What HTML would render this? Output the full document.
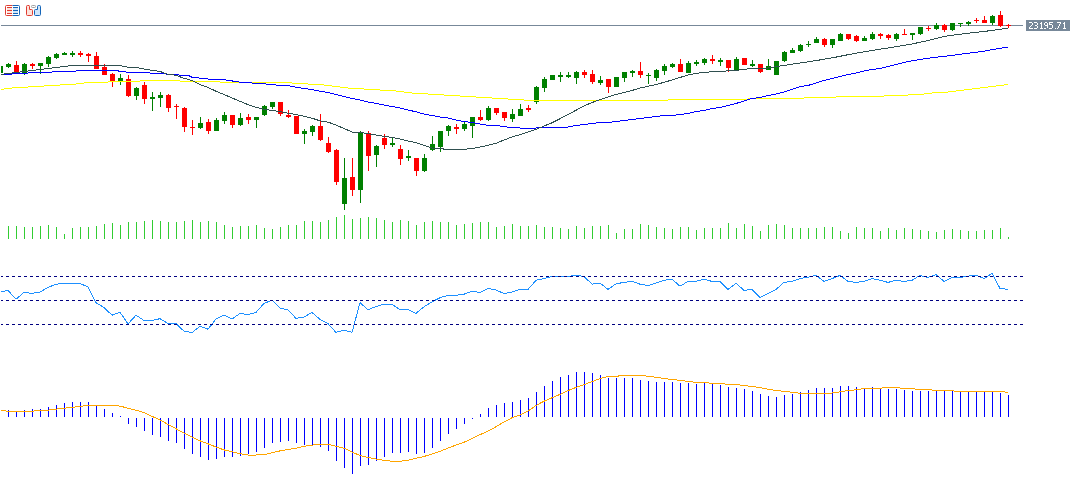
<!DOCTYPE html>
<html><head><meta charset="utf-8"><style>
html,body{margin:0;padding:0;background:#fff;width:1073px;height:503px;overflow:hidden}
#c{position:absolute;left:0;top:0}
</style></head><body>
<svg id="c" width="1073" height="503" shape-rendering="crispEdges">
<defs><clipPath id="cp"><rect x="1" y="0" width="1072" height="503"/></clipPath></defs><g clip-path="url(#cp)"><rect x="1" y="25" width="1022" height="1" fill="#778899"/>
<rect x="0" y="66" width="1" height="7" fill="#008000"/>
<rect x="1" y="66" width="2" height="7" fill="#008000"/>
<rect x="8" y="63" width="1" height="5" fill="#008000"/>
<rect x="6" y="64" width="5" height="3" fill="#008000"/>
<rect x="16" y="61" width="1" height="11" fill="#ff0000"/>
<rect x="14" y="65" width="5" height="7" fill="#ff0000"/>
<rect x="24" y="63" width="1" height="12" fill="#008000"/>
<rect x="22" y="64" width="5" height="10" fill="#008000"/>
<rect x="32" y="63" width="1" height="6" fill="#ff0000"/>
<rect x="30" y="64" width="5" height="2" fill="#ff0000"/>
<rect x="40" y="63" width="1" height="11" fill="#008000"/>
<rect x="38" y="63" width="5" height="3" fill="#008000"/>
<rect x="48" y="56" width="1" height="11" fill="#008000"/>
<rect x="46" y="57" width="5" height="7" fill="#008000"/>
<rect x="56" y="53" width="1" height="6" fill="#008000"/>
<rect x="54" y="54" width="5" height="4" fill="#008000"/>
<rect x="64" y="52" width="1" height="3" fill="#008000"/>
<rect x="62" y="53" width="5" height="2" fill="#008000"/>
<rect x="72" y="51" width="1" height="6" fill="#008000"/>
<rect x="70" y="53" width="5" height="2" fill="#008000"/>
<rect x="80" y="51" width="1" height="6" fill="#ff0000"/>
<rect x="78" y="53" width="5" height="2" fill="#ff0000"/>
<rect x="88" y="53" width="1" height="9" fill="#ff0000"/>
<rect x="86" y="54" width="5" height="2" fill="#ff0000"/>
<rect x="96" y="52" width="1" height="17" fill="#ff0000"/>
<rect x="94" y="56" width="5" height="13" fill="#ff0000"/>
<rect x="104" y="64" width="1" height="11" fill="#ff0000"/>
<rect x="102" y="67" width="5" height="8" fill="#ff0000"/>
<rect x="112" y="73" width="1" height="14" fill="#ff0000"/>
<rect x="110" y="74" width="5" height="7" fill="#ff0000"/>
<rect x="120" y="74" width="1" height="11" fill="#008000"/>
<rect x="118" y="78" width="5" height="3" fill="#008000"/>
<rect x="128" y="75" width="1" height="22" fill="#ff0000"/>
<rect x="126" y="79" width="5" height="17" fill="#ff0000"/>
<rect x="136" y="87" width="1" height="13" fill="#008000"/>
<rect x="134" y="88" width="5" height="8" fill="#008000"/>
<rect x="144" y="82" width="1" height="22" fill="#ff0000"/>
<rect x="142" y="85" width="5" height="14" fill="#ff0000"/>
<rect x="152" y="92" width="1" height="19" fill="#008000"/>
<rect x="150" y="97" width="5" height="2" fill="#008000"/>
<rect x="160" y="92" width="1" height="15" fill="#008000"/>
<rect x="158" y="95" width="5" height="3" fill="#008000"/>
<rect x="168" y="94" width="1" height="18" fill="#ff0000"/>
<rect x="166" y="95" width="5" height="13" fill="#ff0000"/>
<rect x="176" y="104" width="1" height="15" fill="#ff0000"/>
<rect x="174" y="106" width="5" height="1" fill="#ff0000"/>
<rect x="184" y="107" width="1" height="25" fill="#ff0000"/>
<rect x="182" y="108" width="5" height="19" fill="#ff0000"/>
<rect x="192" y="120" width="1" height="15" fill="#ff0000"/>
<rect x="190" y="127" width="5" height="1" fill="#ff0000"/>
<rect x="200" y="117" width="1" height="12" fill="#008000"/>
<rect x="198" y="123" width="5" height="5" fill="#008000"/>
<rect x="208" y="119" width="1" height="15" fill="#ff0000"/>
<rect x="206" y="122" width="5" height="9" fill="#ff0000"/>
<rect x="216" y="118" width="1" height="12" fill="#008000"/>
<rect x="214" y="120" width="5" height="11" fill="#008000"/>
<rect x="224" y="112" width="1" height="12" fill="#008000"/>
<rect x="222" y="115" width="5" height="6" fill="#008000"/>
<rect x="232" y="115" width="1" height="13" fill="#ff0000"/>
<rect x="230" y="115" width="5" height="10" fill="#ff0000"/>
<rect x="240" y="113" width="1" height="13" fill="#008000"/>
<rect x="238" y="118" width="5" height="7" fill="#008000"/>
<rect x="248" y="114" width="1" height="10" fill="#ff0000"/>
<rect x="246" y="117" width="5" height="3" fill="#ff0000"/>
<rect x="256" y="117" width="1" height="11" fill="#008000"/>
<rect x="254" y="117" width="5" height="3" fill="#008000"/>
<rect x="264" y="105" width="1" height="11" fill="#008000"/>
<rect x="262" y="106" width="5" height="9" fill="#008000"/>
<rect x="272" y="102" width="1" height="7" fill="#008000"/>
<rect x="270" y="102" width="5" height="5" fill="#008000"/>
<rect x="280" y="102" width="1" height="14" fill="#ff0000"/>
<rect x="278" y="102" width="5" height="12" fill="#ff0000"/>
<rect x="288" y="110" width="1" height="8" fill="#ff0000"/>
<rect x="286" y="115" width="5" height="2" fill="#ff0000"/>
<rect x="296" y="116" width="1" height="18" fill="#ff0000"/>
<rect x="294" y="116" width="5" height="18" fill="#ff0000"/>
<rect x="304" y="129" width="1" height="15" fill="#008000"/>
<rect x="302" y="131" width="5" height="3" fill="#008000"/>
<rect x="312" y="125" width="1" height="11" fill="#008000"/>
<rect x="310" y="126" width="5" height="6" fill="#008000"/>
<rect x="320" y="114" width="1" height="27" fill="#ff0000"/>
<rect x="318" y="126" width="5" height="14" fill="#ff0000"/>
<rect x="328" y="137" width="1" height="16" fill="#ff0000"/>
<rect x="326" y="143" width="5" height="9" fill="#ff0000"/>
<rect x="336" y="149" width="1" height="36" fill="#ff0000"/>
<rect x="334" y="150" width="5" height="32" fill="#ff0000"/>
<rect x="344" y="158" width="1" height="52" fill="#008000"/>
<rect x="342" y="178" width="5" height="26" fill="#008000"/>
<rect x="352" y="158" width="1" height="38" fill="#ff0000"/>
<rect x="350" y="177" width="5" height="13" fill="#ff0000"/>
<rect x="360" y="131" width="1" height="72" fill="#008000"/>
<rect x="358" y="132" width="5" height="58" fill="#008000"/>
<rect x="368" y="131" width="1" height="40" fill="#ff0000"/>
<rect x="366" y="133" width="5" height="23" fill="#ff0000"/>
<rect x="376" y="145" width="1" height="22" fill="#008000"/>
<rect x="374" y="146" width="5" height="9" fill="#008000"/>
<rect x="384" y="134" width="1" height="15" fill="#ff0000"/>
<rect x="382" y="138" width="5" height="7" fill="#ff0000"/>
<rect x="392" y="137" width="1" height="10" fill="#008000"/>
<rect x="390" y="143" width="5" height="2" fill="#008000"/>
<rect x="400" y="145" width="1" height="20" fill="#ff0000"/>
<rect x="398" y="149" width="5" height="10" fill="#ff0000"/>
<rect x="408" y="150" width="1" height="11" fill="#008000"/>
<rect x="406" y="156" width="5" height="2" fill="#008000"/>
<rect x="416" y="158" width="1" height="18" fill="#ff0000"/>
<rect x="414" y="158" width="5" height="13" fill="#ff0000"/>
<rect x="424" y="154" width="1" height="18" fill="#008000"/>
<rect x="422" y="158" width="5" height="13" fill="#008000"/>
<rect x="432" y="136" width="1" height="15" fill="#008000"/>
<rect x="430" y="144" width="5" height="6" fill="#008000"/>
<rect x="440" y="131" width="1" height="21" fill="#008000"/>
<rect x="438" y="131" width="5" height="16" fill="#008000"/>
<rect x="448" y="125" width="1" height="11" fill="#008000"/>
<rect x="446" y="126" width="5" height="5" fill="#008000"/>
<rect x="456" y="124" width="1" height="10" fill="#ff0000"/>
<rect x="454" y="127" width="5" height="2" fill="#ff0000"/>
<rect x="464" y="122" width="1" height="9" fill="#008000"/>
<rect x="462" y="124" width="5" height="5" fill="#008000"/>
<rect x="472" y="117" width="1" height="21" fill="#008000"/>
<rect x="470" y="117" width="5" height="9" fill="#008000"/>
<rect x="480" y="110" width="1" height="11" fill="#ff0000"/>
<rect x="478" y="117" width="5" height="3" fill="#ff0000"/>
<rect x="488" y="106" width="1" height="15" fill="#008000"/>
<rect x="486" y="108" width="5" height="12" fill="#008000"/>
<rect x="496" y="108" width="1" height="7" fill="#ff0000"/>
<rect x="494" y="108" width="5" height="5" fill="#ff0000"/>
<rect x="504" y="112" width="1" height="9" fill="#ff0000"/>
<rect x="502" y="112" width="5" height="6" fill="#ff0000"/>
<rect x="512" y="109" width="1" height="13" fill="#008000"/>
<rect x="510" y="114" width="5" height="5" fill="#008000"/>
<rect x="520" y="104" width="1" height="11" fill="#008000"/>
<rect x="518" y="109" width="5" height="7" fill="#008000"/>
<rect x="528" y="105" width="1" height="7" fill="#ff0000"/>
<rect x="526" y="108" width="5" height="2" fill="#ff0000"/>
<rect x="536" y="86" width="1" height="18" fill="#008000"/>
<rect x="534" y="87" width="5" height="15" fill="#008000"/>
<rect x="544" y="77" width="1" height="15" fill="#008000"/>
<rect x="542" y="79" width="5" height="9" fill="#008000"/>
<rect x="552" y="75" width="1" height="5" fill="#008000"/>
<rect x="550" y="75" width="5" height="5" fill="#008000"/>
<rect x="560" y="72" width="1" height="10" fill="#008000"/>
<rect x="558" y="75" width="5" height="2" fill="#008000"/>
<rect x="568" y="72" width="1" height="6" fill="#008000"/>
<rect x="566" y="75" width="5" height="2" fill="#008000"/>
<rect x="576" y="71" width="1" height="13" fill="#008000"/>
<rect x="574" y="72" width="5" height="6" fill="#008000"/>
<rect x="584" y="70" width="1" height="8" fill="#ff0000"/>
<rect x="582" y="72" width="5" height="3" fill="#ff0000"/>
<rect x="592" y="70" width="1" height="14" fill="#ff0000"/>
<rect x="590" y="74" width="5" height="8" fill="#ff0000"/>
<rect x="600" y="76" width="1" height="9" fill="#008000"/>
<rect x="598" y="80" width="5" height="3" fill="#008000"/>
<rect x="608" y="79" width="1" height="14" fill="#ff0000"/>
<rect x="606" y="79" width="5" height="8" fill="#ff0000"/>
<rect x="616" y="77" width="1" height="10" fill="#008000"/>
<rect x="614" y="77" width="5" height="10" fill="#008000"/>
<rect x="624" y="72" width="1" height="10" fill="#008000"/>
<rect x="622" y="72" width="5" height="6" fill="#008000"/>
<rect x="632" y="70" width="1" height="7" fill="#008000"/>
<rect x="630" y="71" width="5" height="2" fill="#008000"/>
<rect x="640" y="62" width="1" height="16" fill="#ff0000"/>
<rect x="638" y="71" width="5" height="4" fill="#ff0000"/>
<rect x="648" y="73" width="1" height="11" fill="#008000"/>
<rect x="646" y="75" width="5" height="1" fill="#008000"/>
<rect x="656" y="69" width="1" height="12" fill="#008000"/>
<rect x="654" y="70" width="5" height="8" fill="#008000"/>
<rect x="664" y="64" width="1" height="11" fill="#008000"/>
<rect x="662" y="66" width="5" height="5" fill="#008000"/>
<rect x="672" y="63" width="1" height="5" fill="#008000"/>
<rect x="670" y="64" width="5" height="3" fill="#008000"/>
<rect x="680" y="59" width="1" height="12" fill="#ff0000"/>
<rect x="678" y="64" width="5" height="8" fill="#ff0000"/>
<rect x="688" y="61" width="1" height="11" fill="#008000"/>
<rect x="686" y="63" width="5" height="10" fill="#008000"/>
<rect x="696" y="60" width="1" height="6" fill="#008000"/>
<rect x="694" y="62" width="5" height="2" fill="#008000"/>
<rect x="704" y="58" width="1" height="7" fill="#008000"/>
<rect x="702" y="59" width="5" height="4" fill="#008000"/>
<rect x="712" y="55" width="1" height="9" fill="#ff0000"/>
<rect x="710" y="59" width="5" height="2" fill="#ff0000"/>
<rect x="720" y="58" width="1" height="8" fill="#008000"/>
<rect x="718" y="60" width="5" height="2" fill="#008000"/>
<rect x="728" y="60" width="1" height="12" fill="#ff0000"/>
<rect x="726" y="60" width="5" height="8" fill="#ff0000"/>
<rect x="736" y="57" width="1" height="12" fill="#008000"/>
<rect x="734" y="59" width="5" height="11" fill="#008000"/>
<rect x="744" y="58" width="1" height="7" fill="#ff0000"/>
<rect x="742" y="58" width="5" height="7" fill="#ff0000"/>
<rect x="752" y="60" width="1" height="7" fill="#008000"/>
<rect x="750" y="64" width="5" height="2" fill="#008000"/>
<rect x="760" y="64" width="1" height="9" fill="#ff0000"/>
<rect x="758" y="64" width="5" height="8" fill="#ff0000"/>
<rect x="768" y="59" width="1" height="10" fill="#008000"/>
<rect x="766" y="66" width="5" height="4" fill="#008000"/>
<rect x="776" y="61" width="1" height="14" fill="#008000"/>
<rect x="774" y="61" width="5" height="14" fill="#008000"/>
<rect x="784" y="51" width="1" height="11" fill="#008000"/>
<rect x="782" y="52" width="5" height="9" fill="#008000"/>
<rect x="792" y="48" width="1" height="4" fill="#008000"/>
<rect x="790" y="50" width="5" height="3" fill="#008000"/>
<rect x="800" y="44" width="1" height="8" fill="#008000"/>
<rect x="798" y="45" width="5" height="6" fill="#008000"/>
<rect x="808" y="41" width="1" height="6" fill="#008000"/>
<rect x="806" y="44" width="5" height="1" fill="#008000"/>
<rect x="816" y="37" width="1" height="5" fill="#008000"/>
<rect x="814" y="39" width="5" height="4" fill="#008000"/>
<rect x="824" y="38" width="1" height="9" fill="#ff0000"/>
<rect x="822" y="39" width="5" height="6" fill="#ff0000"/>
<rect x="832" y="39" width="1" height="9" fill="#008000"/>
<rect x="830" y="39" width="5" height="6" fill="#008000"/>
<rect x="840" y="33" width="1" height="7" fill="#008000"/>
<rect x="838" y="34" width="5" height="7" fill="#008000"/>
<rect x="848" y="34" width="1" height="6" fill="#ff0000"/>
<rect x="846" y="34" width="5" height="5" fill="#ff0000"/>
<rect x="856" y="35" width="1" height="7" fill="#ff0000"/>
<rect x="854" y="36" width="5" height="5" fill="#ff0000"/>
<rect x="864" y="36" width="1" height="4" fill="#008000"/>
<rect x="862" y="38" width="5" height="3" fill="#008000"/>
<rect x="872" y="32" width="1" height="8" fill="#008000"/>
<rect x="870" y="34" width="5" height="5" fill="#008000"/>
<rect x="880" y="33" width="1" height="6" fill="#ff0000"/>
<rect x="878" y="34" width="5" height="2" fill="#ff0000"/>
<rect x="888" y="34" width="1" height="6" fill="#ff0000"/>
<rect x="886" y="35" width="5" height="3" fill="#ff0000"/>
<rect x="896" y="33" width="1" height="8" fill="#008000"/>
<rect x="894" y="34" width="5" height="5" fill="#008000"/>
<rect x="904" y="29" width="1" height="5" fill="#ff0000"/>
<rect x="902" y="34" width="5" height="1" fill="#ff0000"/>
<rect x="912" y="33" width="1" height="7" fill="#008000"/>
<rect x="910" y="33" width="5" height="2" fill="#008000"/>
<rect x="920" y="27" width="1" height="8" fill="#008000"/>
<rect x="918" y="27" width="5" height="7" fill="#008000"/>
<rect x="928" y="26" width="1" height="5" fill="#ff0000"/>
<rect x="926" y="28" width="5" height="1" fill="#ff0000"/>
<rect x="936" y="23" width="1" height="7" fill="#008000"/>
<rect x="934" y="25" width="5" height="4" fill="#008000"/>
<rect x="944" y="24" width="1" height="8" fill="#ff0000"/>
<rect x="942" y="25" width="5" height="5" fill="#ff0000"/>
<rect x="952" y="23" width="1" height="8" fill="#008000"/>
<rect x="950" y="23" width="5" height="7" fill="#008000"/>
<rect x="960" y="23" width="1" height="4" fill="#008000"/>
<rect x="958" y="23" width="5" height="1" fill="#008000"/>
<rect x="968" y="21" width="1" height="5" fill="#008000"/>
<rect x="966" y="22" width="5" height="2" fill="#008000"/>
<rect x="976" y="18" width="1" height="5" fill="#ff0000"/>
<rect x="974" y="20" width="5" height="1" fill="#ff0000"/>
<rect x="984" y="16" width="1" height="6" fill="#ff0000"/>
<rect x="982" y="20" width="5" height="3" fill="#ff0000"/>
<rect x="992" y="15" width="1" height="10" fill="#008000"/>
<rect x="990" y="16" width="5" height="7" fill="#008000"/>
<rect x="1000" y="11" width="1" height="16" fill="#ff0000"/>
<rect x="998" y="15" width="5" height="11" fill="#ff0000"/>
<rect x="1008" y="24" width="1" height="4" fill="#ff0000"/>
<rect x="1006" y="25" width="5" height="1" fill="#ff0000"/>
<polyline points="0,89.5 8,88.5 16,87.5 24,87.5 32,86.5 40,86.5 48,85.5 56,85.5 64,84.5 72,84.5 80,83.5 88,82.5 104,82.5 112,81.5 136,81.5 144,80.5 176,80.5 184,81.5 216,81.5 224,82.5 272,82.5 280,82.5 288,82.5 296,83.5 304,83.5 312,84.5 320,84.5 328,85.5 336,86.5 344,87.5 352,88.5 360,88.5 368,89.5 376,89.5 384,90.5 392,90.5 400,91.5 408,92.5 416,93.5 424,93.5 432,94.5 440,94.5 448,95.5 456,95.5 464,96.5 472,96.5 480,97.5 488,97.5 496,98.5 504,98.5 512,99.5 520,99.5 528,100.5 664,100.5 672,99.5 736,99.5 744,99.5 752,98.5 800,98.5 808,97.5 832,97.5 840,96.5 880,96.5 888,95.5 904,95.5 912,94.5 920,94.5 928,93.5 936,92.5 944,92.5 952,91.5 960,90.5 968,89.5 976,88.5 984,87.5 992,86.5 1000,85.5 1008,84.5" fill="none" stroke="#ffff00" stroke-width="1" />
<polyline points="0,74.5 8,74.5 16,73.5 24,73.5 32,72.5 48,72.5 56,71.5 72,71.5 80,70.5 116,70.5 120,71.3 128,72.3 148,72.5 152,73.4 164,73.5 168,74.3 178,74.5 180,75.5 189,75.8 192,77.3 197,77.5 200,78.3 210,79.2 225,79.9 240,82.1 255,83.2 272,84.5 280,85.5 288,85.5 296,87.3 304,88.5 312,89.5 320,91.3 328,92.5 336,94.5 344,96.5 352,98.5 360,100 368,102 376,103.3 384,105 392,106.5 400,108 408,110 416,111.8 424,114 432,115.5 440,117 448,118 456,120 464,121.5 472,122.5 480,124 488,125.3 496,125.5 512,127.6 528,128.4 544,127.6 560,127.3 568,127 576,125.5 584,124.5 592,123.5 600,122.5 608,122.5 616,121.5 624,120.5 632,119.5 640,118.5 648,117.5 656,116.5 664,115.5 672,115.5 680,114.5 688,113.5 696,111.5 704,110.5 712,108.5 720,107.5 728,105.5 736,103.5 744,101 752,98.5 760,97.5 768,95.5 776,94 784,92 792,89.5 800,86.5 808,85.5 816,83 824,80.5 832,78.5 840,76.5 848,74.5 856,73 864,71 872,69.5 880,68.5 888,66.5 896,64.5 904,62.5 912,60.8 920,59.5 928,58.3 936,57.3 944,56.3 952,55.5 960,54.3 968,53.3 976,52.3 984,51.2 992,49.7 1000,48.3 1008,47.3" fill="none" stroke="#0000ff" stroke-width="1" />
<polyline points="0,74.5 8,73.5 16,72.5 24,71.5 32,70.5 40,69.5 48,68.5 56,67.5 64,66.5 72,65.5 120,65.5 128,67.3 136,67.3 144,69 152,70.3 160,71.5 168,74.3 176,75.3 184,78.3 192,80.5 200,84.5 208,87.5 216,91.2 224,94.5 232,97.9 240,101.3 248,104.6 256,107.4 264,109.2 272,110.4 280,111.7 296,114.5 304,116.2 312,118.2 320,120.8 328,122.1 336,125 344,128.5 352,132 360,132.4 376,135 384,136.3 392,137.4 400,139 408,141 416,142.5 424,145.5 432,148 448,149.4 464,149.4 472,148.5 480,147 488,145.3 496,143.3 504,140 512,137 520,134.7 536,129.3 552,122.8 568,114.6 584,105.9 592,102.5 600,99.8 608,97 616,94.5 624,92.5 632,90.5 640,88 648,86.3 656,84.6 664,82.3 672,80 680,77.5 688,75 696,73.5 704,72.3 720,71.4 736,70.3 744,69.4 752,68.5 768,68 784,65.4 800,63 816,60.6 832,57.9 848,54.7 864,51.8 880,49.2 896,46.7 912,44 928,40.5 944,36.4 952,35.2 960,34.3 968,33.2 976,32.4 984,31.4 992,30.5 1000,29.3 1008,28.2" fill="none" stroke="#2f4f4f" stroke-width="1" />
<rect x="8" y="226" width="1" height="13" fill="#32cd32"/>
<rect x="16" y="226" width="1" height="13" fill="#32cd32"/>
<rect x="24" y="227" width="1" height="12" fill="#32cd32"/>
<rect x="32" y="227" width="1" height="12" fill="#32cd32"/>
<rect x="40" y="226" width="1" height="13" fill="#32cd32"/>
<rect x="48" y="225" width="1" height="14" fill="#32cd32"/>
<rect x="56" y="227" width="1" height="12" fill="#32cd32"/>
<rect x="64" y="234" width="1" height="5" fill="#32cd32"/>
<rect x="72" y="228" width="1" height="11" fill="#32cd32"/>
<rect x="80" y="227" width="1" height="12" fill="#32cd32"/>
<rect x="88" y="227" width="1" height="12" fill="#32cd32"/>
<rect x="96" y="226" width="1" height="13" fill="#32cd32"/>
<rect x="104" y="224" width="1" height="15" fill="#32cd32"/>
<rect x="112" y="223" width="1" height="16" fill="#32cd32"/>
<rect x="120" y="225" width="1" height="14" fill="#32cd32"/>
<rect x="128" y="222" width="1" height="17" fill="#32cd32"/>
<rect x="136" y="222" width="1" height="17" fill="#32cd32"/>
<rect x="144" y="221" width="1" height="18" fill="#32cd32"/>
<rect x="152" y="220" width="1" height="19" fill="#32cd32"/>
<rect x="160" y="221" width="1" height="18" fill="#32cd32"/>
<rect x="168" y="222" width="1" height="17" fill="#32cd32"/>
<rect x="176" y="221.5" width="1" height="17.5" fill="#32cd32"/>
<rect x="184" y="221" width="1" height="18" fill="#32cd32"/>
<rect x="192" y="220" width="1" height="19" fill="#32cd32"/>
<rect x="200" y="222" width="1" height="17" fill="#32cd32"/>
<rect x="208" y="221" width="1" height="18" fill="#32cd32"/>
<rect x="216" y="222" width="1" height="17" fill="#32cd32"/>
<rect x="224" y="225" width="1" height="14" fill="#32cd32"/>
<rect x="232" y="227" width="1" height="12" fill="#32cd32"/>
<rect x="240" y="226" width="1" height="13" fill="#32cd32"/>
<rect x="248" y="226" width="1" height="13" fill="#32cd32"/>
<rect x="256" y="225" width="1" height="14" fill="#32cd32"/>
<rect x="264" y="228" width="1" height="11" fill="#32cd32"/>
<rect x="272" y="229" width="1" height="10" fill="#32cd32"/>
<rect x="280" y="227" width="1" height="12" fill="#32cd32"/>
<rect x="288" y="225" width="1" height="14" fill="#32cd32"/>
<rect x="296" y="225" width="1" height="14" fill="#32cd32"/>
<rect x="304" y="221" width="1" height="18" fill="#32cd32"/>
<rect x="312" y="221" width="1" height="18" fill="#32cd32"/>
<rect x="320" y="222" width="1" height="17" fill="#32cd32"/>
<rect x="328" y="220" width="1" height="19" fill="#32cd32"/>
<rect x="336" y="217" width="1" height="22" fill="#32cd32"/>
<rect x="344" y="215" width="1" height="24" fill="#32cd32"/>
<rect x="352" y="219" width="1" height="20" fill="#32cd32"/>
<rect x="360" y="218" width="1" height="21" fill="#32cd32"/>
<rect x="368" y="217" width="1" height="22" fill="#32cd32"/>
<rect x="376" y="218" width="1" height="21" fill="#32cd32"/>
<rect x="384" y="220" width="1" height="19" fill="#32cd32"/>
<rect x="392" y="222" width="1" height="17" fill="#32cd32"/>
<rect x="400" y="220" width="1" height="19" fill="#32cd32"/>
<rect x="408" y="221" width="1" height="18" fill="#32cd32"/>
<rect x="416" y="225" width="1" height="14" fill="#32cd32"/>
<rect x="424" y="222" width="1" height="17" fill="#32cd32"/>
<rect x="432" y="221" width="1" height="18" fill="#32cd32"/>
<rect x="440" y="222" width="1" height="17" fill="#32cd32"/>
<rect x="448" y="222" width="1" height="17" fill="#32cd32"/>
<rect x="456" y="225" width="1" height="14" fill="#32cd32"/>
<rect x="464" y="224" width="1" height="15" fill="#32cd32"/>
<rect x="472" y="223" width="1" height="16" fill="#32cd32"/>
<rect x="480" y="222" width="1" height="17" fill="#32cd32"/>
<rect x="488" y="222" width="1" height="17" fill="#32cd32"/>
<rect x="496" y="227" width="1" height="12" fill="#32cd32"/>
<rect x="504" y="226" width="1" height="13" fill="#32cd32"/>
<rect x="512" y="224" width="1" height="15" fill="#32cd32"/>
<rect x="520" y="226" width="1" height="13" fill="#32cd32"/>
<rect x="528" y="226" width="1" height="13" fill="#32cd32"/>
<rect x="536" y="225" width="1" height="14" fill="#32cd32"/>
<rect x="544" y="227" width="1" height="12" fill="#32cd32"/>
<rect x="552" y="227" width="1" height="12" fill="#32cd32"/>
<rect x="560" y="228" width="1" height="11" fill="#32cd32"/>
<rect x="568" y="229" width="1" height="10" fill="#32cd32"/>
<rect x="576" y="226" width="1" height="13" fill="#32cd32"/>
<rect x="584" y="228" width="1" height="11" fill="#32cd32"/>
<rect x="592" y="226" width="1" height="13" fill="#32cd32"/>
<rect x="600" y="226" width="1" height="13" fill="#32cd32"/>
<rect x="608" y="225" width="1" height="14" fill="#32cd32"/>
<rect x="616" y="233" width="1" height="6" fill="#32cd32"/>
<rect x="624" y="229" width="1" height="10" fill="#32cd32"/>
<rect x="632" y="229" width="1" height="10" fill="#32cd32"/>
<rect x="640" y="224" width="1" height="15" fill="#32cd32"/>
<rect x="648" y="225" width="1" height="14" fill="#32cd32"/>
<rect x="656" y="227" width="1" height="12" fill="#32cd32"/>
<rect x="664" y="228" width="1" height="11" fill="#32cd32"/>
<rect x="672" y="229" width="1" height="10" fill="#32cd32"/>
<rect x="680" y="227" width="1" height="12" fill="#32cd32"/>
<rect x="688" y="227" width="1" height="12" fill="#32cd32"/>
<rect x="696" y="230" width="1" height="9" fill="#32cd32"/>
<rect x="704" y="228" width="1" height="11" fill="#32cd32"/>
<rect x="712" y="228" width="1" height="11" fill="#32cd32"/>
<rect x="720" y="228" width="1" height="11" fill="#32cd32"/>
<rect x="728" y="223" width="1" height="16" fill="#32cd32"/>
<rect x="736" y="228" width="1" height="11" fill="#32cd32"/>
<rect x="744" y="224" width="1" height="15" fill="#32cd32"/>
<rect x="752" y="226" width="1" height="13" fill="#32cd32"/>
<rect x="760" y="231" width="1" height="8" fill="#32cd32"/>
<rect x="768" y="225" width="1" height="14" fill="#32cd32"/>
<rect x="776" y="224" width="1" height="15" fill="#32cd32"/>
<rect x="784" y="225" width="1" height="14" fill="#32cd32"/>
<rect x="792" y="228" width="1" height="11" fill="#32cd32"/>
<rect x="800" y="228" width="1" height="11" fill="#32cd32"/>
<rect x="808" y="228" width="1" height="11" fill="#32cd32"/>
<rect x="816" y="228" width="1" height="11" fill="#32cd32"/>
<rect x="824" y="227" width="1" height="12" fill="#32cd32"/>
<rect x="832" y="227" width="1" height="12" fill="#32cd32"/>
<rect x="840" y="231" width="1" height="8" fill="#32cd32"/>
<rect x="848" y="233" width="1" height="6" fill="#32cd32"/>
<rect x="856" y="227" width="1" height="12" fill="#32cd32"/>
<rect x="864" y="228" width="1" height="11" fill="#32cd32"/>
<rect x="872" y="228" width="1" height="11" fill="#32cd32"/>
<rect x="880" y="231" width="1" height="8" fill="#32cd32"/>
<rect x="888" y="228" width="1" height="11" fill="#32cd32"/>
<rect x="896" y="230" width="1" height="9" fill="#32cd32"/>
<rect x="904" y="228" width="1" height="11" fill="#32cd32"/>
<rect x="912" y="229" width="1" height="10" fill="#32cd32"/>
<rect x="920" y="230" width="1" height="9" fill="#32cd32"/>
<rect x="928" y="231" width="1" height="8" fill="#32cd32"/>
<rect x="936" y="232" width="1" height="7" fill="#32cd32"/>
<rect x="944" y="230" width="1" height="9" fill="#32cd32"/>
<rect x="952" y="229" width="1" height="10" fill="#32cd32"/>
<rect x="960" y="230" width="1" height="9" fill="#32cd32"/>
<rect x="968" y="231" width="1" height="8" fill="#32cd32"/>
<rect x="976" y="231" width="1" height="8" fill="#32cd32"/>
<rect x="984" y="230" width="1" height="9" fill="#32cd32"/>
<rect x="992" y="230" width="1" height="9" fill="#32cd32"/>
<rect x="1000" y="228" width="1" height="11" fill="#32cd32"/>
<rect x="1008" y="237" width="1" height="2" fill="#32cd32"/>
<polyline points="0,292 8,290.5 16,299.2 24,292.3 32,293.4 40,292 48,287.4 56,284.2 64,283.5 72,283.5 80,283.5 88,287 96,302.7 104,307.5 112,315.2 120,312.2 128,324 136,315.2 144,320.5 152,320.4 160,318.7 168,323.6 176,323.6 184,331.2 192,332.6 200,326.4 208,329.2 216,319 224,315.2 232,319 240,313.4 248,314.5 256,312.4 264,303.4 272,300.3 280,308.3 288,309.7 296,318.4 304,317 312,312.4 320,319.4 328,323.6 336,332.4 344,330.1 352,332.4 360,302.7 368,309.7 376,306.5 384,304.1 392,304.5 400,309.5 408,309.5 416,313.4 424,306.8 432,301.9 440,297.7 448,295.3 456,295.3 464,294.2 472,291.2 480,292.4 488,288.4 496,290 504,293.5 512,292.1 520,289.4 528,289.4 536,280.3 544,278.6 552,276.4 560,276.4 568,276.4 576,275.4 584,276.4 592,284.2 600,283.1 608,289.4 616,283.8 624,282.4 632,281.4 640,284.2 648,285.6 656,283.1 664,280.3 672,279.2 680,286.2 688,281.4 696,281.4 704,279.2 712,281.4 720,281.4 728,289.4 736,283.4 744,290.3 752,289.4 760,297.3 768,293.5 776,289.4 784,282.4 792,281.4 800,278.6 808,277.2 816,275.4 824,281.4 832,278.6 840,275.4 848,281.4 856,282.4 864,281.4 872,278.6 880,280.3 888,282.4 896,280.3 904,281.4 912,280.3 920,275.4 928,277.5 936,274.5 944,281.4 952,277.5 960,277.5 968,276.1 976,275 984,278.6 992,273.4 1000,288.4 1008,289.4" fill="none" stroke="#1e90ff" stroke-width="1" />
<path fill="#000080" d="M1 276h2v1h-2zM6 276h3v1h-3zM12 276h3v1h-3zM18 276h3v1h-3zM24 276h3v1h-3zM30 276h3v1h-3zM36 276h3v1h-3zM42 276h3v1h-3zM48 276h3v1h-3zM54 276h3v1h-3zM60 276h3v1h-3zM66 276h3v1h-3zM72 276h3v1h-3zM78 276h3v1h-3zM84 276h3v1h-3zM90 276h3v1h-3zM96 276h3v1h-3zM102 276h3v1h-3zM108 276h3v1h-3zM114 276h3v1h-3zM120 276h3v1h-3zM126 276h3v1h-3zM132 276h3v1h-3zM138 276h3v1h-3zM144 276h3v1h-3zM150 276h3v1h-3zM156 276h3v1h-3zM162 276h3v1h-3zM168 276h3v1h-3zM174 276h3v1h-3zM180 276h3v1h-3zM186 276h3v1h-3zM192 276h3v1h-3zM198 276h3v1h-3zM204 276h3v1h-3zM210 276h3v1h-3zM216 276h3v1h-3zM222 276h3v1h-3zM228 276h3v1h-3zM234 276h3v1h-3zM240 276h3v1h-3zM246 276h3v1h-3zM252 276h3v1h-3zM258 276h3v1h-3zM264 276h3v1h-3zM270 276h3v1h-3zM276 276h3v1h-3zM282 276h3v1h-3zM288 276h3v1h-3zM294 276h3v1h-3zM300 276h3v1h-3zM306 276h3v1h-3zM312 276h3v1h-3zM318 276h3v1h-3zM324 276h3v1h-3zM330 276h3v1h-3zM336 276h3v1h-3zM342 276h3v1h-3zM348 276h3v1h-3zM354 276h3v1h-3zM360 276h3v1h-3zM366 276h3v1h-3zM372 276h3v1h-3zM378 276h3v1h-3zM384 276h3v1h-3zM390 276h3v1h-3zM396 276h3v1h-3zM402 276h3v1h-3zM408 276h3v1h-3zM414 276h3v1h-3zM420 276h3v1h-3zM426 276h3v1h-3zM432 276h3v1h-3zM438 276h3v1h-3zM444 276h3v1h-3zM450 276h3v1h-3zM456 276h3v1h-3zM462 276h3v1h-3zM468 276h3v1h-3zM474 276h3v1h-3zM480 276h3v1h-3zM486 276h3v1h-3zM492 276h3v1h-3zM498 276h3v1h-3zM504 276h3v1h-3zM510 276h3v1h-3zM516 276h3v1h-3zM522 276h3v1h-3zM528 276h3v1h-3zM534 276h3v1h-3zM540 276h3v1h-3zM546 276h3v1h-3zM552 276h3v1h-3zM558 276h3v1h-3zM564 276h3v1h-3zM570 276h3v1h-3zM576 276h3v1h-3zM582 276h3v1h-3zM588 276h3v1h-3zM594 276h3v1h-3zM600 276h3v1h-3zM606 276h3v1h-3zM612 276h3v1h-3zM618 276h3v1h-3zM624 276h3v1h-3zM630 276h3v1h-3zM636 276h3v1h-3zM642 276h3v1h-3zM648 276h3v1h-3zM654 276h3v1h-3zM660 276h3v1h-3zM666 276h3v1h-3zM672 276h3v1h-3zM678 276h3v1h-3zM684 276h3v1h-3zM690 276h3v1h-3zM696 276h3v1h-3zM702 276h3v1h-3zM708 276h3v1h-3zM714 276h3v1h-3zM720 276h3v1h-3zM726 276h3v1h-3zM732 276h3v1h-3zM738 276h3v1h-3zM744 276h3v1h-3zM750 276h3v1h-3zM756 276h3v1h-3zM762 276h3v1h-3zM768 276h3v1h-3zM774 276h3v1h-3zM780 276h3v1h-3zM786 276h3v1h-3zM792 276h3v1h-3zM798 276h3v1h-3zM804 276h3v1h-3zM810 276h3v1h-3zM816 276h3v1h-3zM822 276h3v1h-3zM828 276h3v1h-3zM834 276h3v1h-3zM840 276h3v1h-3zM846 276h3v1h-3zM852 276h3v1h-3zM858 276h3v1h-3zM864 276h3v1h-3zM870 276h3v1h-3zM876 276h3v1h-3zM882 276h3v1h-3zM888 276h3v1h-3zM894 276h3v1h-3zM900 276h3v1h-3zM906 276h3v1h-3zM912 276h3v1h-3zM918 276h3v1h-3zM924 276h3v1h-3zM930 276h3v1h-3zM936 276h3v1h-3zM942 276h3v1h-3zM948 276h3v1h-3zM954 276h3v1h-3zM960 276h3v1h-3zM966 276h3v1h-3zM972 276h3v1h-3zM978 276h3v1h-3zM984 276h3v1h-3zM990 276h3v1h-3zM996 276h3v1h-3zM1002 276h3v1h-3zM1008 276h3v1h-3zM1014 276h3v1h-3zM1020 276h3v1h-3zM1 300h2v1h-2zM6 300h3v1h-3zM12 300h3v1h-3zM18 300h3v1h-3zM24 300h3v1h-3zM30 300h3v1h-3zM36 300h3v1h-3zM42 300h3v1h-3zM48 300h3v1h-3zM54 300h3v1h-3zM60 300h3v1h-3zM66 300h3v1h-3zM72 300h3v1h-3zM78 300h3v1h-3zM84 300h3v1h-3zM90 300h3v1h-3zM96 300h3v1h-3zM102 300h3v1h-3zM108 300h3v1h-3zM114 300h3v1h-3zM120 300h3v1h-3zM126 300h3v1h-3zM132 300h3v1h-3zM138 300h3v1h-3zM144 300h3v1h-3zM150 300h3v1h-3zM156 300h3v1h-3zM162 300h3v1h-3zM168 300h3v1h-3zM174 300h3v1h-3zM180 300h3v1h-3zM186 300h3v1h-3zM192 300h3v1h-3zM198 300h3v1h-3zM204 300h3v1h-3zM210 300h3v1h-3zM216 300h3v1h-3zM222 300h3v1h-3zM228 300h3v1h-3zM234 300h3v1h-3zM240 300h3v1h-3zM246 300h3v1h-3zM252 300h3v1h-3zM258 300h3v1h-3zM264 300h3v1h-3zM270 300h3v1h-3zM276 300h3v1h-3zM282 300h3v1h-3zM288 300h3v1h-3zM294 300h3v1h-3zM300 300h3v1h-3zM306 300h3v1h-3zM312 300h3v1h-3zM318 300h3v1h-3zM324 300h3v1h-3zM330 300h3v1h-3zM336 300h3v1h-3zM342 300h3v1h-3zM348 300h3v1h-3zM354 300h3v1h-3zM360 300h3v1h-3zM366 300h3v1h-3zM372 300h3v1h-3zM378 300h3v1h-3zM384 300h3v1h-3zM390 300h3v1h-3zM396 300h3v1h-3zM402 300h3v1h-3zM408 300h3v1h-3zM414 300h3v1h-3zM420 300h3v1h-3zM426 300h3v1h-3zM432 300h3v1h-3zM438 300h3v1h-3zM444 300h3v1h-3zM450 300h3v1h-3zM456 300h3v1h-3zM462 300h3v1h-3zM468 300h3v1h-3zM474 300h3v1h-3zM480 300h3v1h-3zM486 300h3v1h-3zM492 300h3v1h-3zM498 300h3v1h-3zM504 300h3v1h-3zM510 300h3v1h-3zM516 300h3v1h-3zM522 300h3v1h-3zM528 300h3v1h-3zM534 300h3v1h-3zM540 300h3v1h-3zM546 300h3v1h-3zM552 300h3v1h-3zM558 300h3v1h-3zM564 300h3v1h-3zM570 300h3v1h-3zM576 300h3v1h-3zM582 300h3v1h-3zM588 300h3v1h-3zM594 300h3v1h-3zM600 300h3v1h-3zM606 300h3v1h-3zM612 300h3v1h-3zM618 300h3v1h-3zM624 300h3v1h-3zM630 300h3v1h-3zM636 300h3v1h-3zM642 300h3v1h-3zM648 300h3v1h-3zM654 300h3v1h-3zM660 300h3v1h-3zM666 300h3v1h-3zM672 300h3v1h-3zM678 300h3v1h-3zM684 300h3v1h-3zM690 300h3v1h-3zM696 300h3v1h-3zM702 300h3v1h-3zM708 300h3v1h-3zM714 300h3v1h-3zM720 300h3v1h-3zM726 300h3v1h-3zM732 300h3v1h-3zM738 300h3v1h-3zM744 300h3v1h-3zM750 300h3v1h-3zM756 300h3v1h-3zM762 300h3v1h-3zM768 300h3v1h-3zM774 300h3v1h-3zM780 300h3v1h-3zM786 300h3v1h-3zM792 300h3v1h-3zM798 300h3v1h-3zM804 300h3v1h-3zM810 300h3v1h-3zM816 300h3v1h-3zM822 300h3v1h-3zM828 300h3v1h-3zM834 300h3v1h-3zM840 300h3v1h-3zM846 300h3v1h-3zM852 300h3v1h-3zM858 300h3v1h-3zM864 300h3v1h-3zM870 300h3v1h-3zM876 300h3v1h-3zM882 300h3v1h-3zM888 300h3v1h-3zM894 300h3v1h-3zM900 300h3v1h-3zM906 300h3v1h-3zM912 300h3v1h-3zM918 300h3v1h-3zM924 300h3v1h-3zM930 300h3v1h-3zM936 300h3v1h-3zM942 300h3v1h-3zM948 300h3v1h-3zM954 300h3v1h-3zM960 300h3v1h-3zM966 300h3v1h-3zM972 300h3v1h-3zM978 300h3v1h-3zM984 300h3v1h-3zM990 300h3v1h-3zM996 300h3v1h-3zM1002 300h3v1h-3zM1008 300h3v1h-3zM1014 300h3v1h-3zM1020 300h3v1h-3zM1 324h2v1h-2zM6 324h3v1h-3zM12 324h3v1h-3zM18 324h3v1h-3zM24 324h3v1h-3zM30 324h3v1h-3zM36 324h3v1h-3zM42 324h3v1h-3zM48 324h3v1h-3zM54 324h3v1h-3zM60 324h3v1h-3zM66 324h3v1h-3zM72 324h3v1h-3zM78 324h3v1h-3zM84 324h3v1h-3zM90 324h3v1h-3zM96 324h3v1h-3zM102 324h3v1h-3zM108 324h3v1h-3zM114 324h3v1h-3zM120 324h3v1h-3zM126 324h3v1h-3zM132 324h3v1h-3zM138 324h3v1h-3zM144 324h3v1h-3zM150 324h3v1h-3zM156 324h3v1h-3zM162 324h3v1h-3zM168 324h3v1h-3zM174 324h3v1h-3zM180 324h3v1h-3zM186 324h3v1h-3zM192 324h3v1h-3zM198 324h3v1h-3zM204 324h3v1h-3zM210 324h3v1h-3zM216 324h3v1h-3zM222 324h3v1h-3zM228 324h3v1h-3zM234 324h3v1h-3zM240 324h3v1h-3zM246 324h3v1h-3zM252 324h3v1h-3zM258 324h3v1h-3zM264 324h3v1h-3zM270 324h3v1h-3zM276 324h3v1h-3zM282 324h3v1h-3zM288 324h3v1h-3zM294 324h3v1h-3zM300 324h3v1h-3zM306 324h3v1h-3zM312 324h3v1h-3zM318 324h3v1h-3zM324 324h3v1h-3zM330 324h3v1h-3zM336 324h3v1h-3zM342 324h3v1h-3zM348 324h3v1h-3zM354 324h3v1h-3zM360 324h3v1h-3zM366 324h3v1h-3zM372 324h3v1h-3zM378 324h3v1h-3zM384 324h3v1h-3zM390 324h3v1h-3zM396 324h3v1h-3zM402 324h3v1h-3zM408 324h3v1h-3zM414 324h3v1h-3zM420 324h3v1h-3zM426 324h3v1h-3zM432 324h3v1h-3zM438 324h3v1h-3zM444 324h3v1h-3zM450 324h3v1h-3zM456 324h3v1h-3zM462 324h3v1h-3zM468 324h3v1h-3zM474 324h3v1h-3zM480 324h3v1h-3zM486 324h3v1h-3zM492 324h3v1h-3zM498 324h3v1h-3zM504 324h3v1h-3zM510 324h3v1h-3zM516 324h3v1h-3zM522 324h3v1h-3zM528 324h3v1h-3zM534 324h3v1h-3zM540 324h3v1h-3zM546 324h3v1h-3zM552 324h3v1h-3zM558 324h3v1h-3zM564 324h3v1h-3zM570 324h3v1h-3zM576 324h3v1h-3zM582 324h3v1h-3zM588 324h3v1h-3zM594 324h3v1h-3zM600 324h3v1h-3zM606 324h3v1h-3zM612 324h3v1h-3zM618 324h3v1h-3zM624 324h3v1h-3zM630 324h3v1h-3zM636 324h3v1h-3zM642 324h3v1h-3zM648 324h3v1h-3zM654 324h3v1h-3zM660 324h3v1h-3zM666 324h3v1h-3zM672 324h3v1h-3zM678 324h3v1h-3zM684 324h3v1h-3zM690 324h3v1h-3zM696 324h3v1h-3zM702 324h3v1h-3zM708 324h3v1h-3zM714 324h3v1h-3zM720 324h3v1h-3zM726 324h3v1h-3zM732 324h3v1h-3zM738 324h3v1h-3zM744 324h3v1h-3zM750 324h3v1h-3zM756 324h3v1h-3zM762 324h3v1h-3zM768 324h3v1h-3zM774 324h3v1h-3zM780 324h3v1h-3zM786 324h3v1h-3zM792 324h3v1h-3zM798 324h3v1h-3zM804 324h3v1h-3zM810 324h3v1h-3zM816 324h3v1h-3zM822 324h3v1h-3zM828 324h3v1h-3zM834 324h3v1h-3zM840 324h3v1h-3zM846 324h3v1h-3zM852 324h3v1h-3zM858 324h3v1h-3zM864 324h3v1h-3zM870 324h3v1h-3zM876 324h3v1h-3zM882 324h3v1h-3zM888 324h3v1h-3zM894 324h3v1h-3zM900 324h3v1h-3zM906 324h3v1h-3zM912 324h3v1h-3zM918 324h3v1h-3zM924 324h3v1h-3zM930 324h3v1h-3zM936 324h3v1h-3zM942 324h3v1h-3zM948 324h3v1h-3zM954 324h3v1h-3zM960 324h3v1h-3zM966 324h3v1h-3zM972 324h3v1h-3zM978 324h3v1h-3zM984 324h3v1h-3zM990 324h3v1h-3zM996 324h3v1h-3zM1002 324h3v1h-3zM1008 324h3v1h-3zM1014 324h3v1h-3zM1020 324h3v1h-3z"/>
<rect x="8" y="410" width="1" height="7" fill="#0000ff"/>
<rect x="16" y="411" width="1" height="6" fill="#0000ff"/>
<rect x="24" y="410" width="1" height="7" fill="#0000ff"/>
<rect x="32" y="409" width="1" height="8" fill="#0000ff"/>
<rect x="40" y="409" width="1" height="8" fill="#0000ff"/>
<rect x="48" y="407" width="1" height="10" fill="#0000ff"/>
<rect x="56" y="405" width="1" height="12" fill="#0000ff"/>
<rect x="64" y="403" width="1" height="14" fill="#0000ff"/>
<rect x="72" y="402" width="1" height="15" fill="#0000ff"/>
<rect x="80" y="402" width="1" height="15" fill="#0000ff"/>
<rect x="88" y="402" width="1" height="15" fill="#0000ff"/>
<rect x="96" y="405.5" width="1" height="11.5" fill="#0000ff"/>
<rect x="104" y="409" width="1" height="8" fill="#0000ff"/>
<rect x="112" y="413" width="1" height="4" fill="#0000ff"/>
<rect x="120" y="416" width="1" height="1" fill="#0000ff"/>
<rect x="128" y="418" width="1" height="6" fill="#0000ff"/>
<rect x="136" y="418" width="1" height="8.6" fill="#0000ff"/>
<rect x="144" y="418" width="1" height="12.6" fill="#0000ff"/>
<rect x="152" y="418" width="1" height="16.8" fill="#0000ff"/>
<rect x="160" y="418" width="1" height="18.6" fill="#0000ff"/>
<rect x="168" y="418" width="1" height="22.8" fill="#0000ff"/>
<rect x="176" y="418" width="1" height="24.7" fill="#0000ff"/>
<rect x="184" y="418" width="1" height="30.5" fill="#0000ff"/>
<rect x="192" y="418" width="1" height="35.6" fill="#0000ff"/>
<rect x="200" y="418" width="1" height="39" fill="#0000ff"/>
<rect x="208" y="418" width="1" height="41.7" fill="#0000ff"/>
<rect x="216" y="418" width="1" height="40.7" fill="#0000ff"/>
<rect x="224" y="418" width="1" height="39.4" fill="#0000ff"/>
<rect x="232" y="418" width="1" height="39.4" fill="#0000ff"/>
<rect x="240" y="418" width="1" height="37.5" fill="#0000ff"/>
<rect x="248" y="418" width="1" height="35.6" fill="#0000ff"/>
<rect x="256" y="418" width="1" height="33.8" fill="#0000ff"/>
<rect x="264" y="418" width="1" height="29.7" fill="#0000ff"/>
<rect x="272" y="418" width="1" height="24.8" fill="#0000ff"/>
<rect x="280" y="418" width="1" height="23.9" fill="#0000ff"/>
<rect x="288" y="418" width="1" height="22.7" fill="#0000ff"/>
<rect x="296" y="418" width="1" height="24.8" fill="#0000ff"/>
<rect x="304" y="418" width="1" height="26.6" fill="#0000ff"/>
<rect x="312" y="418" width="1" height="26.6" fill="#0000ff"/>
<rect x="320" y="418" width="1" height="28.9" fill="#0000ff"/>
<rect x="328" y="418" width="1" height="32.9" fill="#0000ff"/>
<rect x="336" y="418" width="1" height="42.7" fill="#0000ff"/>
<rect x="344" y="418" width="1" height="49.9" fill="#0000ff"/>
<rect x="352" y="418" width="1" height="55.6" fill="#0000ff"/>
<rect x="360" y="418" width="1" height="47.7" fill="#0000ff"/>
<rect x="368" y="418" width="1" height="46.8" fill="#0000ff"/>
<rect x="376" y="418" width="1" height="42.7" fill="#0000ff"/>
<rect x="384" y="418" width="1" height="38.6" fill="#0000ff"/>
<rect x="392" y="418" width="1" height="34.7" fill="#0000ff"/>
<rect x="400" y="418" width="1" height="34.7" fill="#0000ff"/>
<rect x="408" y="418" width="1" height="33.7" fill="#0000ff"/>
<rect x="416" y="418" width="1" height="35.6" fill="#0000ff"/>
<rect x="424" y="418" width="1" height="34.7" fill="#0000ff"/>
<rect x="432" y="418" width="1" height="29.6" fill="#0000ff"/>
<rect x="440" y="418" width="1" height="22.8" fill="#0000ff"/>
<rect x="448" y="418" width="1" height="15.8" fill="#0000ff"/>
<rect x="456" y="418" width="1" height="10.7" fill="#0000ff"/>
<rect x="464" y="418" width="1" height="5.8" fill="#0000ff"/>
<rect x="472" y="418" width="1" height="1" fill="#0000ff"/>
<rect x="480" y="414" width="1" height="3" fill="#0000ff"/>
<rect x="488" y="408" width="1" height="9" fill="#0000ff"/>
<rect x="496" y="405" width="1" height="12" fill="#0000ff"/>
<rect x="504" y="403" width="1" height="14" fill="#0000ff"/>
<rect x="512" y="402" width="1" height="15" fill="#0000ff"/>
<rect x="520" y="399.8" width="1" height="17.2" fill="#0000ff"/>
<rect x="528" y="398" width="1" height="19" fill="#0000ff"/>
<rect x="536" y="391.9" width="1" height="25.1" fill="#0000ff"/>
<rect x="544" y="386" width="1" height="31" fill="#0000ff"/>
<rect x="552" y="380.9" width="1" height="36.1" fill="#0000ff"/>
<rect x="560" y="377" width="1" height="40" fill="#0000ff"/>
<rect x="568" y="374.9" width="1" height="42.1" fill="#0000ff"/>
<rect x="576" y="372" width="1" height="45" fill="#0000ff"/>
<rect x="584" y="372" width="1" height="45" fill="#0000ff"/>
<rect x="592" y="373" width="1" height="44" fill="#0000ff"/>
<rect x="600" y="374.9" width="1" height="42.1" fill="#0000ff"/>
<rect x="608" y="378" width="1" height="39" fill="#0000ff"/>
<rect x="616" y="378" width="1" height="39" fill="#0000ff"/>
<rect x="624" y="378" width="1" height="39" fill="#0000ff"/>
<rect x="632" y="378" width="1" height="39" fill="#0000ff"/>
<rect x="640" y="379.9" width="1" height="37.1" fill="#0000ff"/>
<rect x="648" y="380.9" width="1" height="36.1" fill="#0000ff"/>
<rect x="656" y="382" width="1" height="35" fill="#0000ff"/>
<rect x="664" y="382" width="1" height="35" fill="#0000ff"/>
<rect x="672" y="382" width="1" height="35" fill="#0000ff"/>
<rect x="680" y="383" width="1" height="34" fill="#0000ff"/>
<rect x="688" y="383" width="1" height="34" fill="#0000ff"/>
<rect x="696" y="384" width="1" height="33" fill="#0000ff"/>
<rect x="704" y="382.6" width="1" height="34.4" fill="#0000ff"/>
<rect x="712" y="384" width="1" height="33" fill="#0000ff"/>
<rect x="720" y="384.8" width="1" height="32.2" fill="#0000ff"/>
<rect x="728" y="386.8" width="1" height="30.2" fill="#0000ff"/>
<rect x="736" y="387.8" width="1" height="29.2" fill="#0000ff"/>
<rect x="744" y="389" width="1" height="28" fill="#0000ff"/>
<rect x="752" y="391" width="1" height="26" fill="#0000ff"/>
<rect x="760" y="394" width="1" height="23" fill="#0000ff"/>
<rect x="768" y="396" width="1" height="21" fill="#0000ff"/>
<rect x="776" y="396.9" width="1" height="20.1" fill="#0000ff"/>
<rect x="784" y="394.9" width="1" height="22.1" fill="#0000ff"/>
<rect x="792" y="393.9" width="1" height="23.1" fill="#0000ff"/>
<rect x="800" y="391.8" width="1" height="25.2" fill="#0000ff"/>
<rect x="808" y="389.8" width="1" height="27.2" fill="#0000ff"/>
<rect x="816" y="388" width="1" height="29" fill="#0000ff"/>
<rect x="824" y="388" width="1" height="29" fill="#0000ff"/>
<rect x="832" y="388" width="1" height="29" fill="#0000ff"/>
<rect x="840" y="386" width="1" height="31" fill="#0000ff"/>
<rect x="848" y="386" width="1" height="31" fill="#0000ff"/>
<rect x="856" y="386.8" width="1" height="30.2" fill="#0000ff"/>
<rect x="864" y="388.8" width="1" height="28.2" fill="#0000ff"/>
<rect x="872" y="386.8" width="1" height="30.2" fill="#0000ff"/>
<rect x="880" y="387.6" width="1" height="29.4" fill="#0000ff"/>
<rect x="888" y="388.8" width="1" height="28.2" fill="#0000ff"/>
<rect x="896" y="388.8" width="1" height="28.2" fill="#0000ff"/>
<rect x="904" y="389.8" width="1" height="27.2" fill="#0000ff"/>
<rect x="912" y="391" width="1" height="26" fill="#0000ff"/>
<rect x="920" y="391" width="1" height="26" fill="#0000ff"/>
<rect x="928" y="391" width="1" height="26" fill="#0000ff"/>
<rect x="936" y="391" width="1" height="26" fill="#0000ff"/>
<rect x="944" y="391" width="1" height="26" fill="#0000ff"/>
<rect x="952" y="391" width="1" height="26" fill="#0000ff"/>
<rect x="960" y="391.8" width="1" height="25.2" fill="#0000ff"/>
<rect x="968" y="391.8" width="1" height="25.2" fill="#0000ff"/>
<rect x="976" y="391.8" width="1" height="25.2" fill="#0000ff"/>
<rect x="984" y="391.8" width="1" height="25.2" fill="#0000ff"/>
<rect x="992" y="391.8" width="1" height="25.2" fill="#0000ff"/>
<rect x="1000" y="393" width="1" height="24" fill="#0000ff"/>
<rect x="1008" y="394.9" width="1" height="22.1" fill="#0000ff"/>
<polyline points="0,410.1 8,411.4 16,411.4 24,411.4 32,411.4 40,410.1 48,410.1 56,409.1 64,408.2 72,407.4 80,406.4 88,405.4 96,405.4 104,405.4 112,405.4 120,406.1 128,408.2 136,410.2 144,412.5 152,416.3 160,420 168,424.4 176,428.7 184,433.2 192,437 200,440.8 208,443.8 216,447 224,449.9 232,451.8 240,453.6 248,455 256,455 264,454.8 272,452.7 280,450.9 288,449.4 296,448.2 304,446.4 312,445.1 320,444 328,444 336,446.4 344,448.2 352,452.1 360,455.4 368,457.5 376,459 384,460.4 392,461.2 400,461.2 408,460.2 416,458.3 424,456.5 432,454 440,451.4 448,448 456,445.1 464,442.3 472,438.5 480,434.7 488,431 496,426.8 504,421.9 512,417.8 520,415 528,411.1 536,405.5 544,401.2 552,397.8 560,394.4 568,390.6 576,387.4 584,384.6 592,381.7 600,378.5 608,376.6 616,376.2 624,375.6 632,375.2 640,375.2 648,376.2 656,377.3 664,378.5 672,379.5 680,380.3 688,381.4 696,382.3 704,382.3 712,383.5 720,383.5 728,384.3 736,384.6 744,385.5 752,386.5 760,387.6 768,389.3 776,390.5 784,391.3 792,392.3 800,393.2 808,393.5 816,393.5 824,393.5 832,393 840,391.8 848,390.5 856,389.8 864,388.5 872,388.3 880,388.2 888,387.3 896,387.5 904,388.5 912,388.8 920,389.3 928,389.5 936,390.5 944,390.5 952,390.8 960,391.5 968,391.5 976,391.5 984,391.5 992,391.5 1000,391.5 1008,392.3" fill="none" stroke="#ffa500" stroke-width="1" /></g>
</svg>

<svg style="position:absolute;left:0;top:0" width="50" height="22">
  <path d="M12.5 5.5 H6.5 Q5.5 5.5 5.5 6.5 V14.5 Q5.5 15.5 6.5 15.5 H12.5" fill="#fff" stroke="#e03c31"/>
  <path d="M12.5 5.5 H18.5 Q19.5 5.5 19.5 6.5 V14.5 Q19.5 15.5 18.5 15.5 H12.5" fill="#fff" stroke="#1565b8"/>
  <rect x="7" y="8" width="5" height="2" fill="#fde3dc"/>
  <rect x="7" y="11" width="5" height="2" fill="#fde3dc"/>
  <rect x="13" y="8" width="5" height="2" fill="#cfe6fb"/>
  <rect x="13" y="11" width="5" height="2" fill="#cfe6fb"/>
  <rect x="7" y="7" width="5" height="1" fill="#e03c31"/>
  <rect x="7" y="10" width="5" height="1" fill="#e03c31"/>
  <rect x="7" y="13" width="5" height="1" fill="#e03c31"/>
  <rect x="13" y="7" width="5" height="1" fill="#1565b8"/>
  <rect x="13" y="10" width="5" height="1" fill="#1565b8"/>
  <rect x="13" y="13" width="5" height="1" fill="#1565b8"/>
  <path d="M27.5 5.5 H29 Q29.5 5.5 29.5 6.5 V9.5 H31.5 Q32.5 9.5 32.5 10.5 V14.5 Q32.5 15.5 31.5 15.5 H27.5 Q26.5 15.5 26.5 14.5 V6.5 Q26.5 5.5 27.5 5.5 Z" fill="#fde3dc" stroke="#e03c31"/>
  <path d="M38.5 5.5 H39.5 Q40.5 5.5 40.5 6.5 V14.5 Q40.5 15.5 39.5 15.5 H35.5 Q34.5 15.5 34.5 14.5 V10.5 Q34.5 9.5 35.5 9.5 H37.5 V6.5 Q37.5 5.5 38.5 5.5 Z" fill="#cfe6fb" stroke="#1565b8"/>
  <rect x="31.5" y="5.5" width="4" height="2" rx="0.8" fill="#fff" stroke="#a0a0a0"/>
</svg>
<svg style="position:absolute;left:0;top:0" width="1073" height="40" shape-rendering="crispEdges"><rect x="1026" y="20" width="44" height="11" fill="#778899"/><path fill="#fff" d="M1029 22h1v1h-1zM1030 22h1v1h-1zM1031 22h1v1h-1zM1032 23h1v1h-1zM1032 24h1v1h-1zM1031 25h1v1h-1zM1030 26h1v1h-1zM1029 27h1v1h-1zM1029 28h1v1h-1zM1030 28h1v1h-1zM1031 28h1v1h-1zM1032 28h1v1h-1zM1034 22h1v1h-1zM1035 22h1v1h-1zM1036 22h1v1h-1zM1037 23h1v1h-1zM1037 24h1v1h-1zM1035 25h1v1h-1zM1036 25h1v1h-1zM1037 26h1v1h-1zM1037 27h1v1h-1zM1034 28h1v1h-1zM1035 28h1v1h-1zM1036 28h1v1h-1zM1041 22h1v1h-1zM1040 23h1v1h-1zM1041 23h1v1h-1zM1041 24h1v1h-1zM1041 25h1v1h-1zM1041 26h1v1h-1zM1041 27h1v1h-1zM1040 28h1v1h-1zM1041 28h1v1h-1zM1042 28h1v1h-1zM1045 22h1v1h-1zM1046 22h1v1h-1zM1044 23h1v1h-1zM1047 23h1v1h-1zM1044 24h1v1h-1zM1047 24h1v1h-1zM1045 25h1v1h-1zM1046 25h1v1h-1zM1047 25h1v1h-1zM1047 26h1v1h-1zM1047 27h1v1h-1zM1044 28h1v1h-1zM1045 28h1v1h-1zM1049 22h1v1h-1zM1050 22h1v1h-1zM1051 22h1v1h-1zM1052 22h1v1h-1zM1049 23h1v1h-1zM1049 24h1v1h-1zM1050 24h1v1h-1zM1051 24h1v1h-1zM1052 25h1v1h-1zM1052 26h1v1h-1zM1052 27h1v1h-1zM1049 28h1v1h-1zM1050 28h1v1h-1zM1051 28h1v1h-1zM1055 28h1v1h-1zM1057 22h1v1h-1zM1058 22h1v1h-1zM1059 22h1v1h-1zM1060 22h1v1h-1zM1060 23h1v1h-1zM1059 24h1v1h-1zM1059 25h1v1h-1zM1058 26h1v1h-1zM1058 27h1v1h-1zM1057 28h1v1h-1zM1064 22h1v1h-1zM1063 23h1v1h-1zM1064 23h1v1h-1zM1064 24h1v1h-1zM1064 25h1v1h-1zM1064 26h1v1h-1zM1064 27h1v1h-1zM1063 28h1v1h-1zM1064 28h1v1h-1zM1065 28h1v1h-1z"/></svg>
</body></html>
